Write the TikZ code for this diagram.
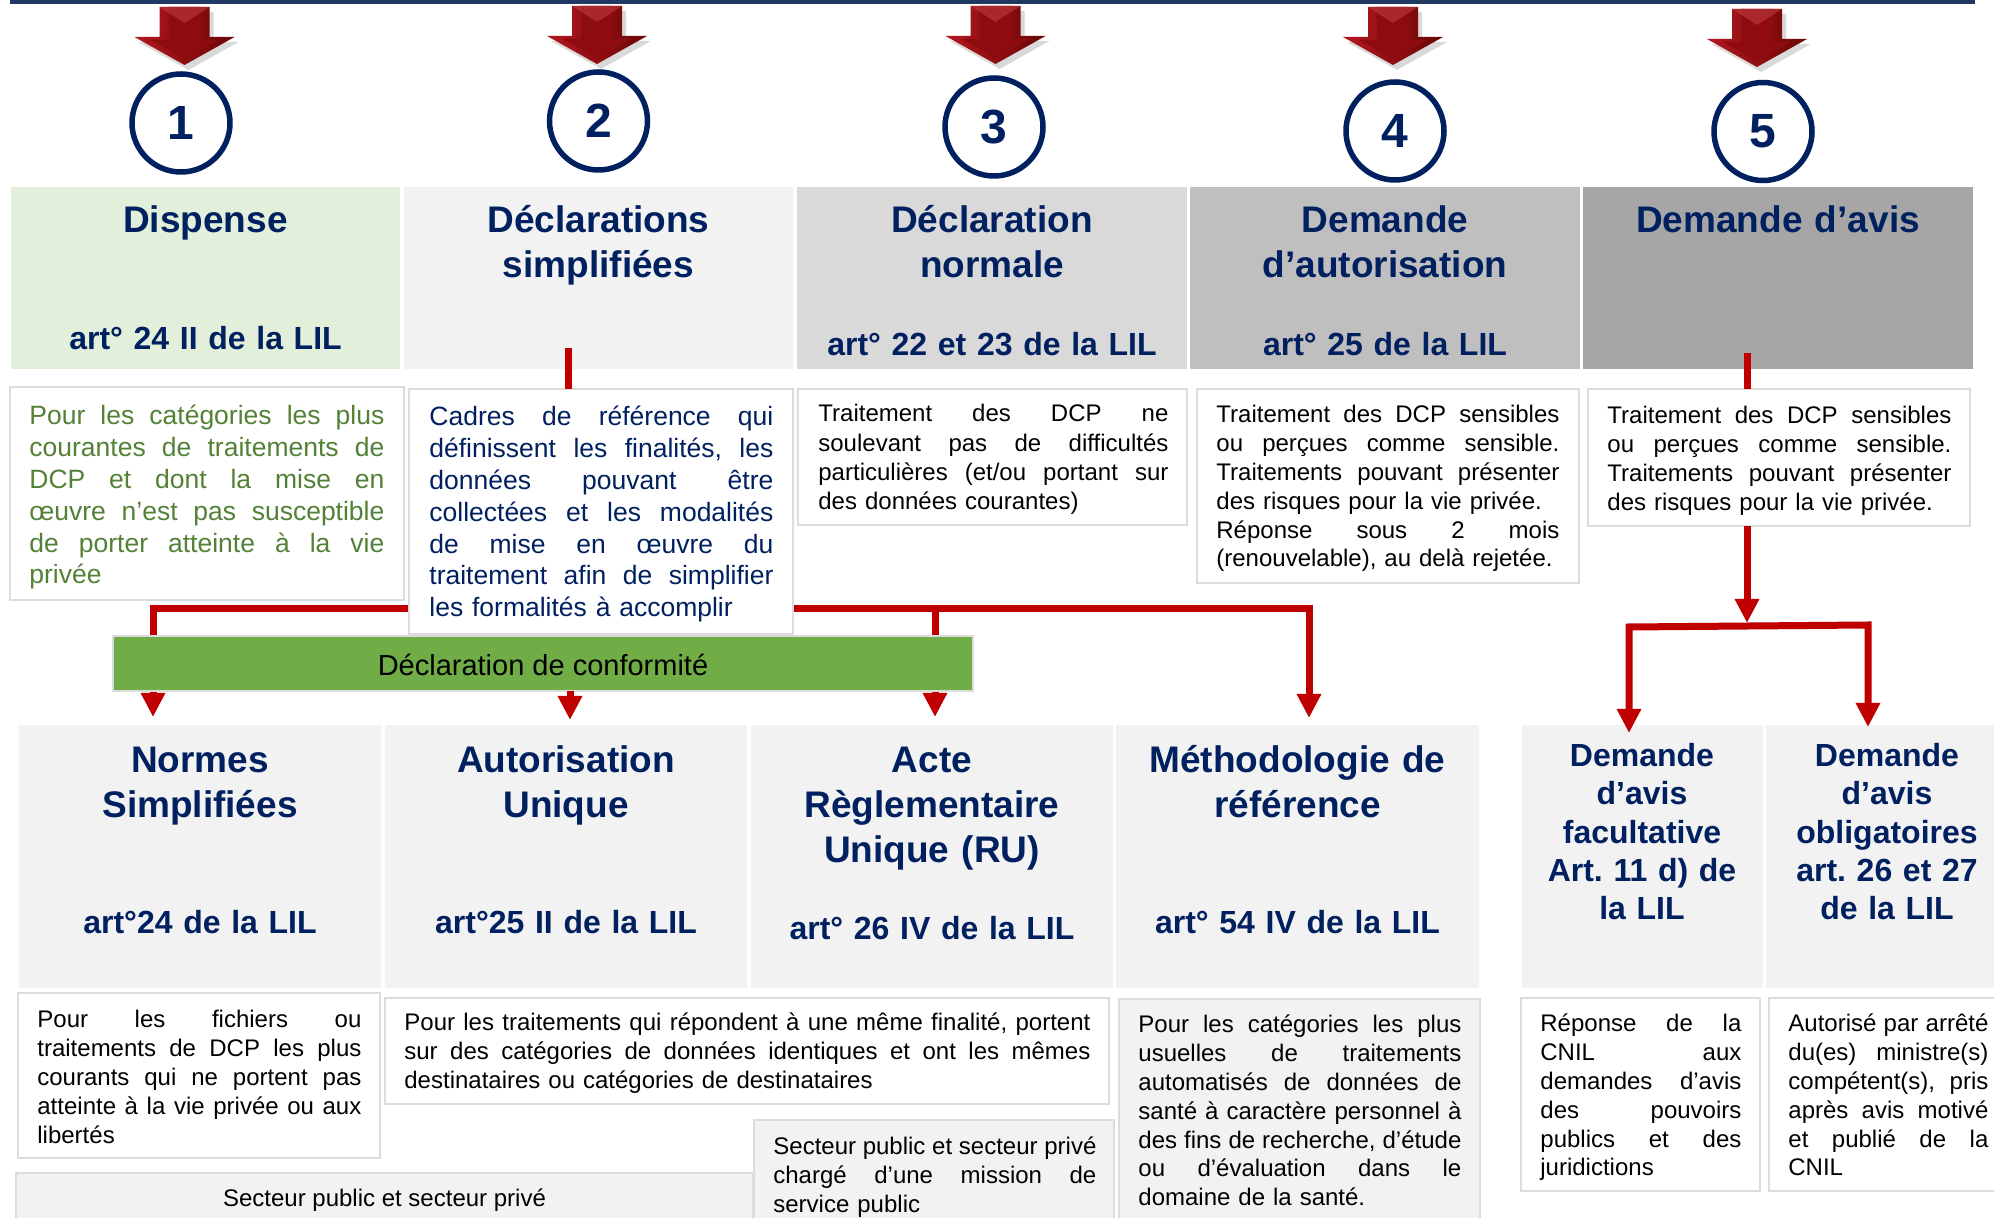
\documentclass[tikz,border=0pt]{standalone}
\usepackage{fontspec}
\setmainfont{Liberation Sans}
\usetikzlibrary{arrows.meta,calc}
\pgfdeclarelayer{wires}
\pgfsetlayers{wires,main}
\frenchspacing

\definecolor{navy}{HTML}{002060}
\definecolor{rulenavy}{HTML}{1F3864}
\definecolor{cnilred}{HTML}{C00000}
\definecolor{leafgreen}{HTML}{70AD47}
\definecolor{paleleaf}{HTML}{E2EFDA}
\definecolor{greentext}{HTML}{538135}
\definecolor{grayA}{HTML}{F2F2F2}
\definecolor{grayB}{HTML}{D9D9D9}
\definecolor{grayC}{HTML}{BFBFBF}
\definecolor{grayD}{HTML}{A6A6A6}
\definecolor{edge}{HTML}{DCDCDC}
\definecolor{arrowlight}{HTML}{B3181E}
\definecolor{arrowmid}{HTML}{8E0C10}
\definecolor{arrowdark}{HTML}{6A0505}

% rectangle panel given by its two corners (x1,y1) (x2,y2)
\newcommand\panel[6][]{%
  \node[panel,#1,minimum width={(#5-#3)*0.5pt},minimum height={(#6-#4)*0.5pt}] (#2) at (#3,#4) {};}
% one fully justified line of a paragraph
\newcommand\jl[1]{{\spaceskip=0pt\xspaceskip=0pt\makebox[\hsize][s]{#1}}\\}
% bevelled block arrow: centre x, top y, tip y
\newcommand\blockarrow[3]{%
  \fill[black,opacity=.15] (#1-21,#2+5) -- (#1+29,#2+5) -- (#1+29,#2+35) -- (#1+54,#2+35) -- (#1+4,#3+5) -- (#1-46,#2+35) -- (#1-21,#2+35) -- cycle;
  \shade[left color=arrowlight, right color=arrowdark] (#1-25,#2) -- (#1+25,#2) -- (#1+25,#2+30) -- (#1+50,#2+30) -- (#1,#3) -- (#1-50,#2+30) -- (#1-25,#2+30) -- cycle;
  \fill[arrowmid] (#1-16,#2) -- (#1+16,#2) -- (#1+16,#2+33) -- (#1+34,#2+33) -- (#1,#3-6) -- (#1-34,#2+33) -- (#1-16,#2+33) -- cycle;
  \fill[arrowlight!85!white,opacity=.6] (#1-25,#2) -- (#1+25,#2) -- (#1,#2+16) -- cycle;
}

\begin{document}
\begin{tikzpicture}[x=0.5pt,y=-0.5pt,
  panel/.style={rectangle,anchor=north west,inner sep=0pt,outer sep=0pt},
  desc/.style={fill=white,draw=edge,line width=1pt},
  descgray/.style={fill=grayA,draw=edge,line width=1pt},
  cnum/.style={circle,draw=navy,line width=2.75pt,minimum size=49pt,inner sep=0pt,
    text=navy,font=\fontsize{24}{24}\bfseries},
  ttl/.style={inner sep=0pt,anchor=base,align=center,text width=180pt,text=navy,
    font=\fontsize{18.5}{22.5}\bfseries},
  artl/.style={inner sep=0pt,anchor=base,align=center,text width=180pt,text=navy,
    font=\fontsize{16}{19}\bfseries},
  avis/.style={inner sep=0pt,anchor=base,align=center,text width=120pt,text=navy,
    font=\fontsize{16}{19.15}\bfseries},
  body/.style={inner sep=0pt,anchor=base west,
    font=\fontsize{12}{14.4}\selectfont},
  redln/.style={draw=cnilred,line width=3.5pt},
  >={Triangle[length=12pt,width=11.5pt]}]

\useasboundingbox (0,0) rectangle (1994,1218);
\clip (0,0) rectangle (1994,1218);

% top rule
\fill[rulenavy] (10,0) rectangle (1975,4);

% arrows above the numbered regimes
\blockarrow{184.5}{7}{65}
\blockarrow{597}{6}{64}
\blockarrow{995.5}{6}{64}
\blockarrow{1393}{7}{65}
\blockarrow{1757}{9}{67}

% numbered circles
\node[cnum] (c1) at (181,123) {1};
\node[cnum] (c2) at (598.5,121) {2};
\node[cnum] (c3) at (994,127) {3};
\node[cnum] (c4) at (1395,131) {4};
\node[cnum] (c5) at (1763,131.5) {5};

% regime headers
\panel[fill=paleleaf]{t1}{11}{187}{400}{369}
\panel[fill=grayA]{t2}{404}{187}{793}{369}
\panel[fill=grayB]{t3}{797}{187}{1187}{369}
\panel[fill=grayC]{t4}{1190}{187}{1580}{369}
\panel[fill=grayD]{t5}{1583}{187}{1973}{369}

\node[ttl] (t1a) at (205.5,232.5) {Dispense};
\node[artl] (t1b) at (205.5,350) {art° 24 II de la LIL};
\node[ttl] (t2a) at (598.5,232.5) {Déclarations\\simplifiées};
\node[ttl] (t3a) at (992,232.5) {Déclaration\\normale};
\node[artl] (t3b) at (992,355.5) {art° 22 et 23 de la LIL};
\node[ttl] (t4a) at (1385,232.5) {Demande\\d’autorisation};
\node[artl] (t4b) at (1385,355.5) {art° 25 de la LIL};
\node[ttl] (t5a) at (1778,232.5) {Demande d’avis};

% regime descriptions
\panel[desc]{d1}{10}{387}{404}{600}
\panel[desc]{d2}{409}{389}{793}{634}
\panel[desc]{d3}{798}{389}{1187}{525}
\panel[desc]{d4}{1197}{389}{1579}{583}
\panel[desc]{d5}{1588}{389}{1970}{526}

\node[body,text=greentext,text width=177.5pt,font=\fontsize{13.25}{15.9}\selectfont] (d1t) at (29,425)
  {\jl{Pour les catégories les plus}\jl{courantes de traitements de}\jl{DCP et dont la mise en}\jl{œuvre n’est pas susceptible}\jl{de porter atteinte à la vie}privée};
\node[body,text=navy,text width=172pt,font=\fontsize{13.25}{15.9}\selectfont] (d2t) at (429,426)
  {\jl{Cadres de référence qui}\jl{définissent les finalités, les}\jl{données pouvant être}\jl{collectées et les modalités}\jl{de mise en œuvre du}\jl{traitement afin de simplifier}les formalités à accomplir};
\node[body,text width=175pt,font=\fontsize{12}{14.65}\selectfont] (d3t) at (818,422)
  {\jl{Traitement des DCP ne}\jl{soulevant pas de difficultés}\jl{particulières (et/ou portant sur}des données courantes)};
\node[body,text width=171.5pt] (d4t) at (1216,423)
  {\jl{Traitement des DCP sensibles}\jl{ou perçues comme sensible.}\jl{Traitements pouvant présenter}des risques pour la vie privée.\\\jl{Réponse sous 2 mois}(renouvelable), au delà rejetée.};
\node[body,text width=172pt] (d5t) at (1607,424)
  {\jl{Traitement des DCP sensibles}\jl{ou perçues comme sensible.}\jl{Traitements pouvant présenter}des risques pour la vie privée.};

% declaration of conformity
\panel[fill=leafgreen,draw=edge,line width=1pt]{conf}{113}{636}{973}{691}
\node[inner sep=0pt,font=\fontsize{14.5}{17}\selectfont] (conft) at ($(conf.center)+(0,1.5)$) {Déclaration de conformité};

% simplified procedure headers
\panel[fill=grayA]{b1}{19}{725}{381}{988}
\panel[fill=grayA]{b2}{385}{725}{747}{988}
\panel[fill=grayA]{b3}{751}{725}{1113}{988}
\panel[fill=grayA]{b4}{1116}{725}{1479}{988}
\panel[fill=grayA]{b5}{1522}{725}{1763}{988}
\panel[fill=grayA]{b6}{1766}{725}{2010}{988}

\node[ttl] (b1a) at (200,772.5) {Normes\\Simplifiées};
\node[artl] (b1b) at (200,933.5) {art°24 de la LIL};
\node[ttl] (b2a) at (566,772.5) {Autorisation\\Unique};
\node[artl] (b2b) at (566,933.5) {art°25 II de la LIL};
\node[ttl] (b3a) at (932,772.5) {Acte\\Règlementaire\\Unique (RU)};
\node[artl] (b3b) at (932,939.5) {art° 26 IV de la LIL};
\node[ttl] (b4a) at (1297.5,772.5) {Méthodologie de\\référence};
\node[artl] (b4b) at (1297.5,933.5) {art° 54 IV de la LIL};
\node[avis] (b5a) at (1642,766.5) {Demande\\d’avis\\facultative\\Art. 11 d) de\\la LIL};
\node[avis] (b6a) at (1887,766.5) {Demande\\d’avis\\obligatoires\\art. 26 et 27\\de la LIL};

% procedure descriptions
\panel[desc]{e1}{18}{993}{380}{1158}
\panel[desc]{e2}{385}{998}{1109}{1104}
\panel[descgray]{e3}{16}{1173}{753}{1240}
\panel[descgray]{e4}{754}{1120}{1114}{1240}
\panel[descgray]{e5}{1119}{999}{1480}{1240}
\panel[desc]{e6}{1521}{998}{1760}{1191}
\panel[desc]{e7}{1769}{998}{2010}{1191}

\node[body,text width=162pt] (e1t) at (37,1028)
  {\jl{Pour les fichiers ou}\jl{traitements de DCP les plus}\jl{courants qui ne portent pas}\jl{atteinte à la vie privée ou aux}libertés};
\node[body,text width=343pt] (e2t) at (404,1031)
  {\jl{Pour les traitements qui répondent à une même finalité, portent}\jl{sur des catégories de données identiques et ont les mêmes}destinataires ou catégories de destinataires};
\node[body,anchor=base] (e3t) at (384.5,1207) {Secteur public et secteur privé};
\node[body,text width=161.5pt] (e4t) at (773,1155)
  {\jl{Secteur public et secteur privé}\jl{chargé d’une mission de}service public};
\node[body,text width=161.5pt] (e5t) at (1138,1033)
  {\jl{Pour les catégories les plus}\jl{usuelles de traitements}\jl{automatisés de données de}\jl{santé à caractère personnel à}\jl{des fins de recherche, d’étude}\jl{ou d’évaluation dans le}domaine de la santé.};
\node[body,text width=100.5pt] (e6t) at (1540,1032)
  {\jl{Réponse de la}\jl{CNIL aux}\jl{demandes d’avis}\jl{des pouvoirs}\jl{publics et des}juridictions};
\node[body,text width=100pt] (e7t) at (1788,1032)
  {\jl{Autorisé par arrêté}\jl{du(es) ministre(s)}\jl{compétent(s), pris}\jl{après avis motivé}\jl{et publié de la}CNIL};

% connectors
\coordinate (s2) at (568,348);
\coordinate (hL) at (153,609);
\coordinate (hM) at (935,609);
\coordinate (hR) at (1309,609);
\coordinate (hC) at (570,609);
\begin{pgfonlayer}{wires}
  \draw[redln,<->] ($(hL |- b1.north)+(0,-8)$) -- (hL) -- (hR) -- ($(hR |- b4.north)+(0,-7)$);
  \draw[redln,->] (hM) -- ($(hM |- b3.north)+(0,-8)$);
\end{pgfonlayer}
\draw[redln] (s2) -- (s2 |- d2.north);
\draw[redln,->] (hC |- conf.south) -- ($(hC |- b2.north)+(0,-5)$);

\coordinate (s5) at (1747,353);
\coordinate (hub5) at (1747,623);
\coordinate (kL) at (1629,627);
\coordinate (kR) at (1868,625);
\draw[redln] (s5) -- (s5 |- d5.north);
\draw[redln,->] (s5 |- d5.south) -- (hub5);
\draw[redln,<->] ($(kL |- b5.north)+(0,8)$) -- (kL) -- (kR) -- ($(kR |- b6.north)+(0,2)$);

\end{tikzpicture}
\end{document}
